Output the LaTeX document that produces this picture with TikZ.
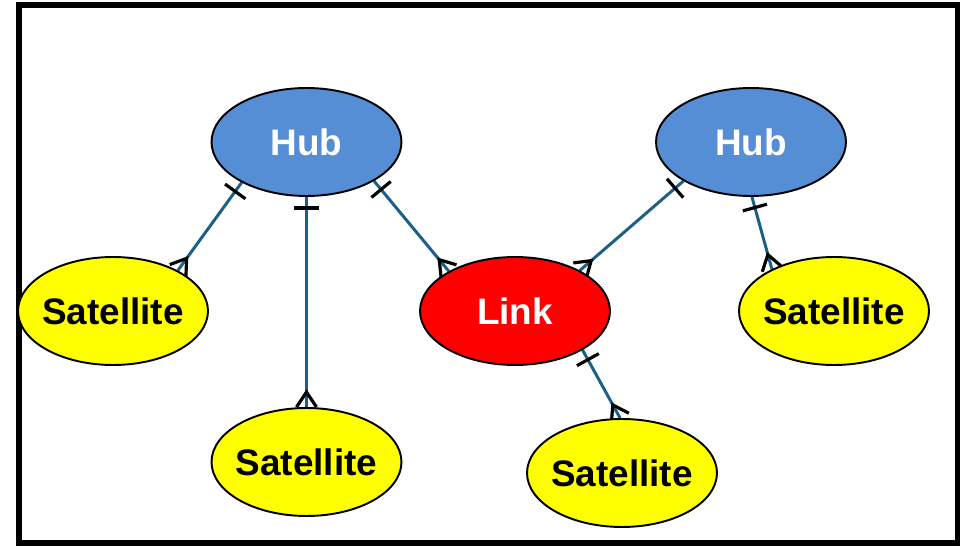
\documentclass[tikz,border=0pt]{standalone}
\usepackage{fontspec}
\setmainfont{Liberation Sans}
\usetikzlibrary{calc,backgrounds,shapes.geometric}
\definecolor{hubblue}{RGB}{85,142,213}
\definecolor{linkred}{RGB}{255,0,0}
\definecolor{satyellow}{RGB}{255,255,0}
\definecolor{connteal}{RGB}{27,96,133}
\tikzset{
  entity/.style={ellipse, draw=black, line width=1.1pt, minimum width=3.8cm,
    minimum height=2.16cm, inner sep=-5pt, font=\fontsize{21}{25}\selectfont\bfseries},
  hubnode/.style={entity, fill=hubblue, text=white},
  linknode/.style={entity, fill=linkred, text=white},
  satnode/.style={entity, fill=satyellow, text=black},
  conn/.style={draw=connteal, line width=1.7pt},
  erbar/.style={draw=black, line width=1.8pt},
}
% one-to-many relationship: bar at the "one" end, crow's foot at the "many" end
\newcommand\erlink[2]{%
  \draw[conn] (#1) -- (#2);
  \coordinate (barmid) at ($(#1)!0.22cm!(#2)$);
  \draw[erbar] ($(barmid)!0.25cm!90:(#2)$) -- ($(barmid)!0.25cm!-90:(#2)$);
  \draw[erbar, line join=miter] ($(#2)!0.2cm!90:(#1)$) -- ($(#2)!0.3cm!(#1)$) -- ($(#2)!0.2cm!-90:(#1)$);
}
\begin{document}
\begin{tikzpicture}[x=0.02cm, y=-0.02cm]
  \useasboundingbox (0,0) rectangle (968,547);
  \draw[line width=3.4pt] (19,5) rectangle (957.5,543);

  \node[hubnode]  (hubA) at (306.5,142) {Hub};
  \node[hubnode]  (hubB) at (751,142) {Hub};
  \node[linknode] (link) at (515,311) {Link};
  \node[satnode]  (satA) at (113,311) {Satellite};
  \node[satnode]  (satB) at (306.5,462) {Satellite};
  \node[satnode]  (satC) at (622,473) {Satellite};
  \node[satnode]  (satD) at (834,311) {Satellite};

  \begin{scope}[on background layer]
    \erlink{hubA.212}{satA.32}
    \erlink{hubA.south}{satB.north}
    \erlink{hubA.330}{link.149}
    \erlink{hubB.210}{link.32}
    \erlink{hubB.271}{satD.146}
    \erlink{link.330}{satC.92}
  \end{scope}
\end{tikzpicture}
\end{document}
